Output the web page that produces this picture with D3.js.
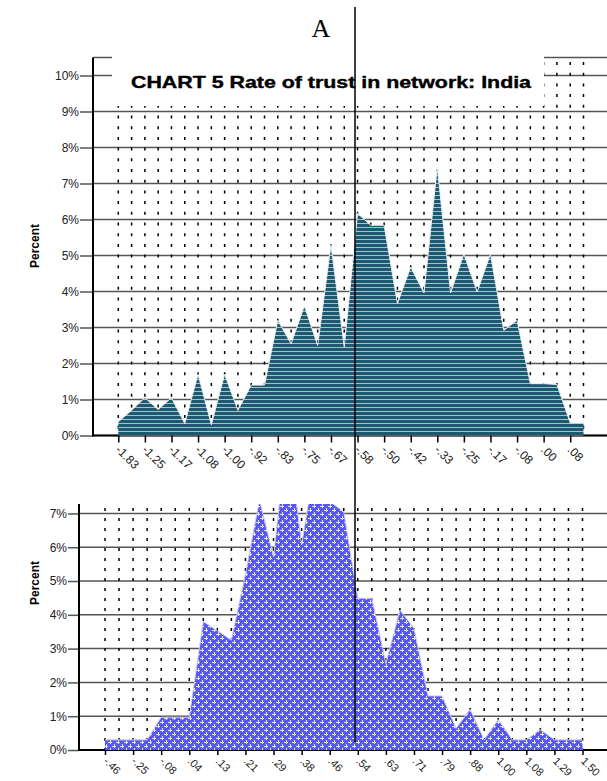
<!DOCTYPE html>
<html>
<head>
<meta charset="utf-8">
<script src="https://cdn.jsdelivr.net/npm/d3@7/dist/d3.min.js"></script>
<style>
  html, body { margin: 0; padding: 0; background: #fff; }
  svg { display: block; }
</style>
</head>
<body>
<svg id="chart" width="607" height="781"></svg>
<script>
// ---------------- DATA ----------------
const topTickLabels = ["-1.83","-1.25","-1.17","-1.08","-1.00","-.92","-.83","-.75","-.67",
  "-.58","-.50","-.42","-.33","-.25","-.17","-.08",".00",".08"];
const topValues = [0.38, 0.7, 1.05, 0.72, 1.05, 0.33, 1.7, 0.3, 1.7, 0.7, 1.4, 1.4,
  3.2, 2.55, 3.6, 2.5, 5.3, 2.46, 6.17, 5.84, 5.84, 3.67, 4.68, 3.96, 7.46, 3.96,
  5.04, 3.99, 5.04, 2.92, 3.2, 1.44, 1.44, 1.42, 0.35, 0.35];
const topYTicks = [0,1,2,3,4,5,6,7,8,9,10];

const bottomTickLabels = ["-.46","-.25","-.08",".04",".13",".21",".29",".38",".46",
  ".54",".63",".71",".79",".88","1.00","1.08","1.29","1.50"];
const bottomValues = [0.3, 0.3, 0.3, 0.3, 0.97, 0.97, 0.97, 3.8, 3.53, 3.25, 5.2, 7.4,
  5.72, 9.5, 6.07, 8.6, 7.35, 7.05, 4.49, 4.49, 2.56, 4.14, 3.6, 1.6, 1.6, 0.64, 1.2,
  0.3, 0.9, 0.3, 0.3, 0.6, 0.3, 0.3, 0.3];
const bottomYTicks = [0,1,2,3,4,5,6,7];

const titleText = "CHART 5 Rate of trust in network: India";
const panelLetter = "A";
const yAxisTitle = "Percent";

// ---------------- DRAW ----------------
const SANS = '"Liberation Sans", Arial, Helvetica, sans-serif';
const SERIF = '"Liberation Serif", "Times New Roman", serif';
const svg = d3.select("#chart");
const W = 607;
const defs = svg.append("defs");

// stripe pattern (top)
const ps = defs.append("pattern").attr("id","stripes").attr("patternUnits","userSpaceOnUse")
  .attr("width",6).attr("height",4);
ps.append("rect").attr("width",6).attr("height",4).attr("fill","#1b5a70");
ps.append("rect").attr("y",3).attr("width",6).attr("height",1).attr("fill","#a9bfca");

// cross pattern (bottom)
const pc = defs.append("pattern").attr("id","cross").attr("patternUnits","userSpaceOnUse")
  .attr("width",8).attr("height",8);
pc.append("rect").attr("width",8).attr("height",8).attr("fill","#5858f6");
[[2,2],[6,6]].forEach(([cx,cy]) => {
  pc.append("path").attr("d",`M${cx-2},${cy+0.5}H${cx+2}M${cx+0.5},${cy-2}V${cy+2}`)
    .attr("stroke","#e4e4ff").attr("stroke-width",1);
});

defs.append("clipPath").attr("id","clipBottom").append("rect")
  .attr("x",0).attr("y",504).attr("width",W).attr("height",250);

const gridColor = "#555";

// ===== TOP CHART =====
const yAxisX1 = 93;
const xTop = d3.scaleLinear().domain([0, topValues.length - 1]).range([118.3, 583.5]);
const yTop = d3.scaleLinear().domain([0, 10.5]).range([435.5, 57.5]);

const gTop = svg.append("g");
gTop.selectAll("line.grid").data(topYTicks).join("line")
  .attr("x1", yAxisX1).attr("x2", W)
  .attr("y1", d => yTop(d)).attr("y2", d => yTop(d))
  .attr("stroke", gridColor).attr("stroke-width", 1.5);
gTop.append("line").attr("x1", yAxisX1).attr("x2", W)
  .attr("y1", yTop(10.5)).attr("y2", yTop(10.5))
  .attr("stroke", gridColor).attr("stroke-width", 1.5);
gTop.selectAll("line.dot").data(topValues.map((d,i)=>i)).join("line")
  .attr("x1", i => xTop(i)).attr("x2", i => xTop(i))
  .attr("y1", 62).attr("y2", yTop(0))
  .attr("stroke", "#000").attr("stroke-width", 1.5)
  .attr("stroke-dasharray", "3,7.7");
gTop.append("line").attr("x1", yAxisX1).attr("x2", W)
  .attr("y1", yTop(0)).attr("y2", yTop(0)).attr("stroke","#000").attr("stroke-width",2);

const areaTop = d3.area().x((d,i)=>xTop(i)).y0(yTop(0)).y1(d=>yTop(d));
const lineTop = d3.line().x((d,i)=>xTop(i)).y(d=>yTop(d));
gTop.append("path").datum(topValues).attr("d", areaTop).attr("fill","url(#stripes)");
gTop.append("path").datum(topValues).attr("d", lineTop).attr("fill","none")
  .attr("stroke","#e8f0f4").attr("stroke-width",1);

const yAxisTop = d3.axisLeft(yTop).tickValues(topYTicks).tickSize(13).tickPadding(1)
  .tickFormat(d => d + "%");
const gyt = svg.append("g").attr("transform", `translate(${yAxisX1},0)`).call(yAxisTop);
gyt.select(".domain").remove();
gyt.selectAll(".tick line").attr("stroke", gridColor).attr("stroke-width",1.5);
gyt.selectAll(".tick text").attr("font-size", 12).attr("fill","#222").style("font-family", SANS);
svg.append("line").attr("x1",yAxisX1).attr("x2",yAxisX1).attr("y1",yTop(10.5)).attr("y2",yTop(0)+1)
  .attr("stroke","#000").attr("stroke-width",2);

const xAxisTop = d3.axisBottom(xTop).tickValues(topTickLabels.map((d,k)=>2*k))
  .tickSize(7).tickFormat(i => topTickLabels[i/2]);
const gxt = svg.append("g").attr("transform", `translate(0,${yTop(0)})`).call(xAxisTop);
gxt.select(".domain").remove();
gxt.selectAll(".tick line").attr("stroke","#000").attr("stroke-width",1.5);
gxt.selectAll(".tick text").attr("font-size", 12).attr("fill","#222").style("font-family", SANS)
  .attr("text-anchor","start").attr("x",0).attr("y",0).attr("dy","0.35em")
  .attr("transform","translate(-1,12) rotate(45)");

// title box + title
svg.append("rect").attr("x",112).attr("y",46).attr("width",432).attr("height",60).attr("fill","#fff");
svg.append("text").attr("x",331).attr("y",88).attr("text-anchor","middle")
  .attr("font-size",17).attr("font-weight","bold").attr("fill","#000").style("font-family", SANS)
  .attr("textLength",400).attr("lengthAdjust","spacingAndGlyphs")
  .attr("stroke","#000").attr("stroke-width",0.4)
  .text(titleText);

svg.append("text").attr("transform","translate(39,246) rotate(-90)").attr("text-anchor","middle")
  .attr("font-size",12).attr("font-weight","bold").attr("fill","#000").style("font-family", SANS)
  .text(yAxisTitle);

// ===== BOTTOM CHART =====
const yAxisX2 = 79;
const xBot = d3.scaleLinear().domain([0, bottomValues.length - 1]).range([105, 582.5]);
const yBot = d3.scaleLinear().domain([0, 7.3]).range([750, 503.3]);

const gBot = svg.append("g");
gBot.selectAll("line.grid").data(bottomYTicks).join("line")
  .attr("x1", yAxisX2).attr("x2", W)
  .attr("y1", d => yBot(d)).attr("y2", d => yBot(d))
  .attr("stroke", gridColor).attr("stroke-width", 1.5);
gBot.selectAll("line.dot").data(bottomValues.map((d,i)=>i)).join("line")
  .attr("x1", i => xBot(i)).attr("x2", i => xBot(i))
  .attr("y1", 508).attr("y2", yBot(0))
  .attr("stroke", "#000").attr("stroke-width", 1.5)
  .attr("stroke-dasharray", "3,7");
gBot.append("line").attr("x1", yAxisX2).attr("x2", W)
  .attr("y1", yBot(0)).attr("y2", yBot(0)).attr("stroke","#000").attr("stroke-width",2);

const areaBot = d3.area().x((d,i)=>xBot(i)).y0(yBot(0)).y1(d=>yBot(d));
const lineBot = d3.line().x((d,i)=>xBot(i)).y(d=>yBot(d));
const gBotArea = gBot.append("g").attr("clip-path","url(#clipBottom)");
gBotArea.append("path").datum(bottomValues).attr("d", areaBot).attr("fill","url(#cross)");
gBotArea.append("path").datum(bottomValues).attr("d", lineBot).attr("fill","none")
  .attr("stroke","#c8c8ff").attr("stroke-width",1);

const yAxisBot = d3.axisLeft(yBot).tickValues(bottomYTicks).tickSize(11).tickPadding(1)
  .tickFormat(d => d + "%");
const gyb = svg.append("g").attr("transform", `translate(${yAxisX2},0)`).call(yAxisBot);
gyb.select(".domain").remove();
gyb.selectAll(".tick line").attr("stroke", gridColor).attr("stroke-width",1.5);
gyb.selectAll(".tick text").attr("font-size", 12).attr("fill","#222").style("font-family", SANS);
svg.append("line").attr("x1",yAxisX2).attr("x2",yAxisX2).attr("y1",504).attr("y2",yBot(0)+1)
  .attr("stroke","#000").attr("stroke-width",2);

const xAxisBot = d3.axisBottom(xBot).tickValues(bottomTickLabels.map((d,k)=>2*k))
  .tickSize(5).tickFormat(i => bottomTickLabels[i/2]);
const gxb = svg.append("g").attr("transform", `translate(0,${yBot(0)})`).call(xAxisBot);
gxb.select(".domain").remove();
gxb.selectAll(".tick line").attr("stroke","#000").attr("stroke-width",1.5);
gxb.selectAll(".tick text").attr("font-size", 11).attr("fill","#222").style("font-family", SANS)
  .attr("text-anchor","start").attr("x",0).attr("y",0).attr("dy","0.35em")
  .attr("transform","translate(0,9) rotate(45)");

svg.append("text").attr("transform","translate(39,583) rotate(-90)").attr("text-anchor","middle")
  .attr("font-size",12).attr("font-weight","bold").attr("fill","#000").style("font-family", SANS)
  .text(yAxisTitle);

// panel letter and long vertical line
svg.append("text").attr("x",321).attr("y",37).attr("text-anchor","middle")
  .style("font-family", SERIF).attr("font-size",26).attr("fill","#000").text(panelLetter);
svg.append("line").attr("x1",355).attr("x2",355).attr("y1",7).attr("y2",742)
  .attr("stroke","#000").attr("stroke-width",1.5);
</script>
</body>
</html>
